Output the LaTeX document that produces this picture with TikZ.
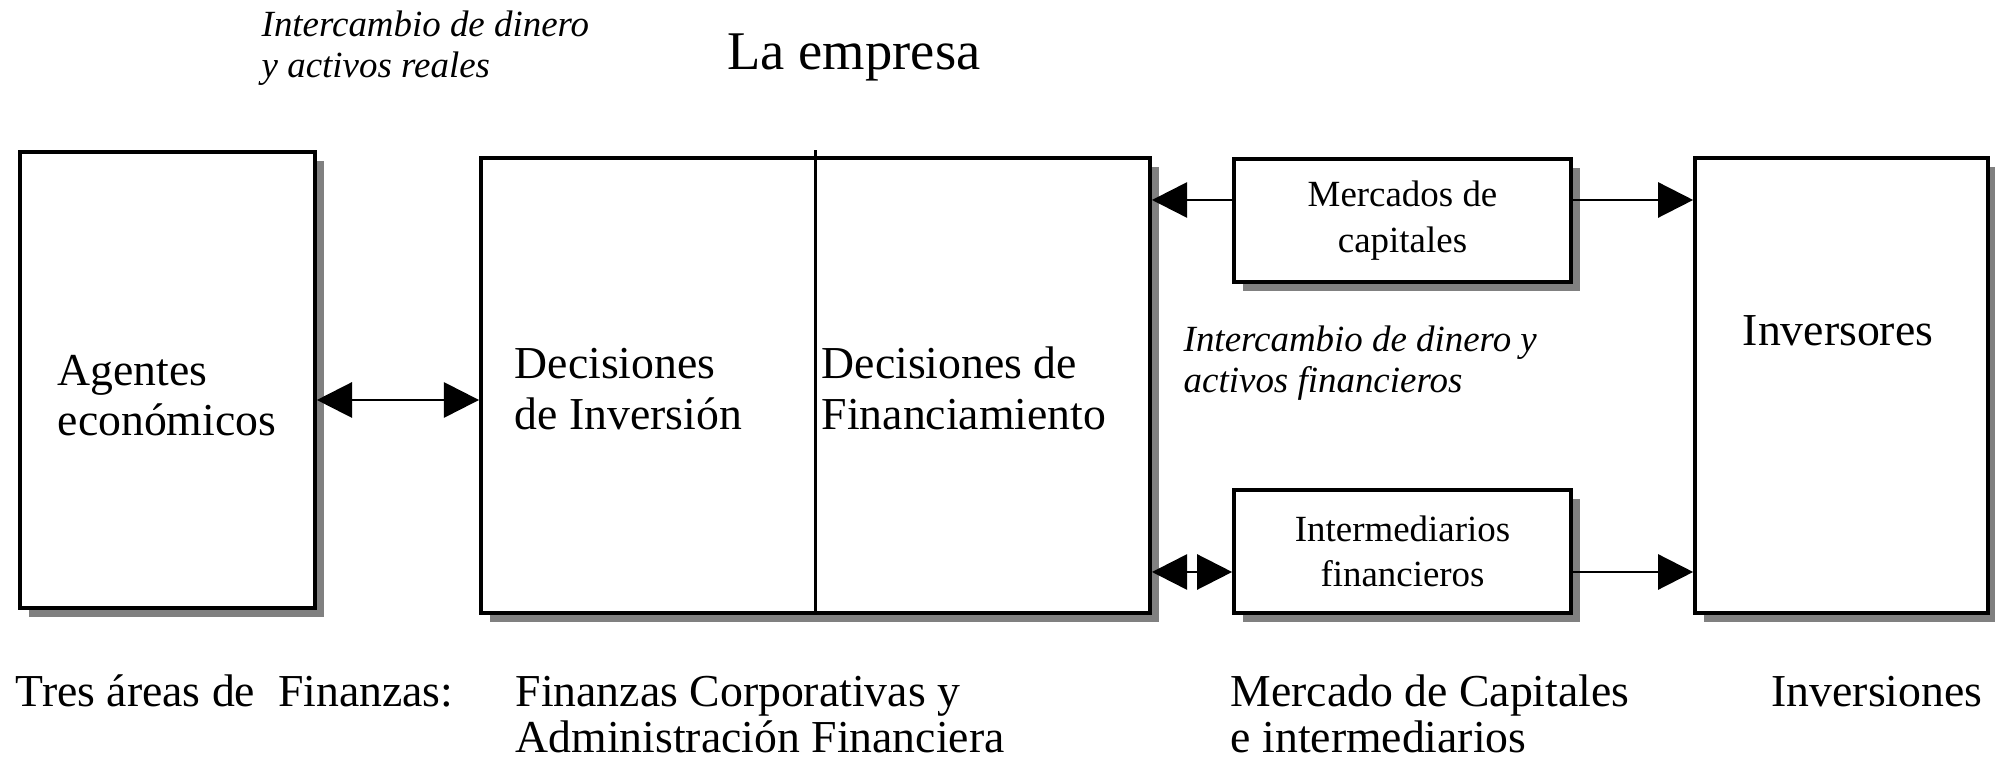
\documentclass[tikz,border=0pt]{standalone}
\usepackage{fontspec}
\setmainfont{Liberation Serif}
\usetikzlibrary{arrows.meta,shadows,calc}

\tikzset{
	box/.style={draw, line width=1pt, fill=white, inner sep=0pt,
		drop shadow={shadow xshift=0.09cm, shadow yshift=-0.09cm, fill=black!50, opacity=1}},
	arr/.style={line width=0.7pt, -{Triangle[length=10pt,width=10pt]}},
	darr/.style={line width=0.7pt, {Triangle[length=10pt,width=10pt]}-{Triangle[length=10pt,width=10pt]}},
	txt/.style={font=\fontsize{13}{14.5}\selectfont, align=left, anchor=base west, inner sep=0pt},
	bottomtxt/.style={font=\fontsize{13}{13.1}\selectfont, align=left, anchor=base west, inner sep=0pt},
	small/.style={font=\fontsize{10.5}{13}\selectfont, align=center},
	note/.style={font=\fontsize{10.5}{11.8}\selectfont\itshape, align=left, anchor=base west, inner sep=0pt}
}

\begin{document}
\begin{tikzpicture}[x=0.01cm, y=-0.01cm]
		\useasboundingbox (0,0) rectangle (1995,762);
		% cajas
		\node[box, minimum width=2.95cm, minimum height=4.56cm] (agentes) at (167.5,380) {};
		\node[box, minimum width=6.69cm, minimum height=4.55cm] (empresa) at (815.5,385.5) {};
		\node[box, small, minimum width=3.37cm, minimum height=1.23cm] (mercados) at (1402.5,220.5) {Mercados de\\capitales};
		\node[box, small, minimum width=3.37cm, minimum height=1.23cm] (intermed) at (1402.5,551.5) {Intermediarios\\financieros};
		\node[box, minimum width=2.93cm, minimum height=4.55cm] (inversores) at (1841.5,385.5) {};
		\draw[line width=0.7pt] ([yshift=0.06cm]empresa.north) -- (empresa.south);
		% textos (base = ultima linea)
		\node[font=\fontsize{15.5}{18}\selectfont, anchor=base] (titulo) at (854,70) {La empresa};
		\node[note] (nota1) at (261,78) {Intercambio de dinero\\y activos reales};
		\node[note] (nota2) at (1183,393) {Intercambio de dinero y\\activos financieros};
		\node[txt] (agtxt) at (57,436) {Agentes\\económicos};
		\node[txt] (invtxt) at (514,430) {Decisiones\\de Inversión};
		\node[txt] (fintxt) at (821,430) {Decisiones de\\Financiamiento};
		\node[txt, anchor=base] (invstxt) at (1838,346) {Inversores};
		\node[bottomtxt] (area1) at (15,707) {Tres áreas de~ Finanzas:};
		\node[bottomtxt] (area2) at (515,753) {Finanzas Corporativas y\\Administración Financiera};
		\node[bottomtxt] (area3) at (1230,753) {Mercado de Capitales\\e intermediarios};
		\node[bottomtxt] (area4) at (1771,707) {Inversiones};
		% flechas
		\coordinate (ya) at ($(agentes.east)+(0,20)$);
		\coordinate (ym) at ($(mercados.west)+(0,-20.5)$);
		\coordinate (yi) at ($(intermed.west)+(0,20.5)$);
		\draw[darr] (ya) -- (ya -| empresa.west);
		\draw[arr] (ym) -- (ym -| empresa.east);
		\draw[arr] (ym -| mercados.east) -- (ym -| inversores.west);
		\draw[darr] (yi -| empresa.east) -- (yi);
		\draw[arr] (yi -| intermed.east) -- (yi -| inversores.west);
	\end{tikzpicture}
\end{document}
